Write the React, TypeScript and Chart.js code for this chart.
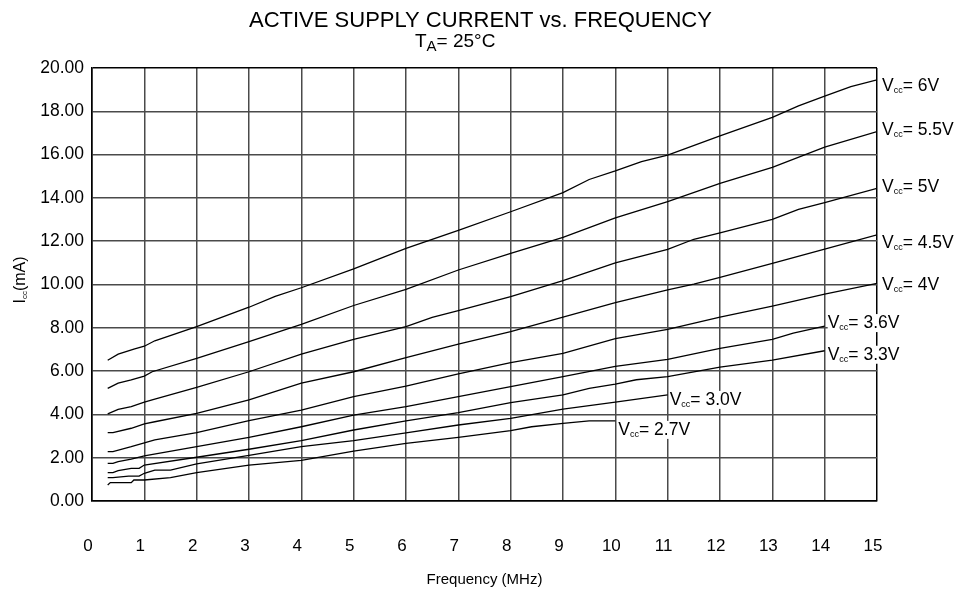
import React, { useEffect, useRef } from 'react';
import { Chart, registerables } from 'chart.js';

Chart.register(...registerables);

const FONT = '"Liberation Sans", Arial, Helvetica, sans-serif';

const TITLE = 'ACTIVE SUPPLY CURRENT vs. FREQUENCY';
const X_TITLE = 'Frequency (MHz)';

const xMin = 0;
const xMax = 15;
const yMin = 0;
const yMax = 20;

const freq6V = [0.3, 0.5, 0.8, 1, 1.2, 2, 3, 3.5, 4, 5, 6, 7, 8, 9, 9.5, 10, 10.5, 11, 12, 13, 13.5, 14, 14.5, 15];
const icc6V = [6.5, 6.78, 7.02, 7.15, 7.4, 8.05, 8.95, 9.45, 9.85, 10.72, 11.67, 12.5, 13.36, 14.24, 14.85, 15.25, 15.68, 15.98, 16.86, 17.72, 18.25, 18.7, 19.14, 19.45];

const freq55V = [0.3, 0.5, 0.75, 1, 1.15, 2, 3, 4, 5, 6, 7, 8, 9, 10, 11, 12, 13, 14, 15];
const icc55V = [5.2, 5.44, 5.59, 5.77, 5.97, 6.59, 7.36, 8.16, 9.03, 9.78, 10.67, 11.44, 12.18, 13.08, 13.83, 14.67, 15.41, 16.34, 17.06];

const freq5V = [0.3, 0.5, 0.75, 1, 1.2, 2, 3, 4, 5, 6, 6.5, 7, 8, 9, 10, 11, 11.5, 12, 13, 13.5, 14, 15];
const icc5V = [4.02, 4.23, 4.36, 4.57, 4.71, 5.25, 5.97, 6.78, 7.47, 8.05, 8.48, 8.79, 9.44, 10.18, 11.0, 11.62, 12.09, 12.39, 13.01, 13.47, 13.78, 14.44];

const freq45V = [0.3, 0.4, 0.75, 1, 1.2, 2, 3, 4, 5, 6, 7, 8, 9, 10, 11, 11.5, 12, 13, 14, 15];
const icc45V = [3.16, 3.16, 3.36, 3.56, 3.66, 4.05, 4.67, 5.44, 5.97, 6.62, 7.25, 7.82, 8.49, 9.16, 9.75, 10.02, 10.33, 10.98, 11.63, 12.29];

const freq4V = [0.3, 0.4, 0.75, 1, 1.2, 2, 3, 4, 5, 6, 7, 8, 9, 10, 11, 12, 13, 14, 15];
const icc4V = [2.28, 2.28, 2.51, 2.69, 2.82, 3.16, 3.71, 4.2, 4.82, 5.31, 5.87, 6.39, 6.82, 7.5, 7.93, 8.49, 9.0, 9.56, 10.05];

const freq36V = [0.3, 0.4, 0.5, 0.75, 1, 2, 3, 4, 5, 6, 7, 8, 9, 10, 11, 12, 13, 13.4, 14];
const icc36V = [1.74, 1.74, 1.82, 1.93, 2.08, 2.51, 2.94, 3.43, 3.97, 4.36, 4.82, 5.28, 5.74, 6.22, 6.54, 7.05, 7.47, 7.75, 8.08];

const freq33V = [0.3, 0.4, 0.5, 0.75, 0.9, 1, 2, 3, 4, 5, 6, 7, 8, 9, 9.5, 10, 10.4, 11, 12, 13, 14];
const icc33V = [1.31, 1.31, 1.4, 1.51, 1.51, 1.66, 2.02, 2.39, 2.79, 3.28, 3.7, 4.08, 4.54, 4.9, 5.2, 5.4, 5.6, 5.74, 6.18, 6.51, 6.94];

const freq30V = [0.3, 0.4, 0.7, 0.9, 1, 1.2, 1.5, 2, 3, 4, 5, 6, 7, 8, 9, 10, 11];
const icc30V = [1.08, 1.08, 1.15, 1.15, 1.28, 1.43, 1.43, 1.71, 2.11, 2.51, 2.79, 3.15, 3.51, 3.82, 4.24, 4.57, 4.9];

const freq27V = [0.3, 0.35, 0.75, 0.8, 1, 1.5, 2, 3, 4, 5, 6, 7, 8, 8.4, 9, 9.5, 10];
const icc27V = [0.74, 0.85, 0.85, 0.97, 0.97, 1.08, 1.31, 1.66, 1.88, 2.3, 2.66, 2.94, 3.25, 3.43, 3.59, 3.7, 3.7];

const seriesNames = ['6V', '5.5V', '5V', '4.5V', '4V', '3.6V', '3.3V', '3.0V', '2.7V'];
const seriesFreqs = [freq6V, freq55V, freq5V, freq45V, freq4V, freq36V, freq33V, freq30V, freq27V];
const seriesIccs = [icc6V, icc55V, icc5V, icc45V, icc4V, icc36V, icc33V, icc30V, icc27V];

// label placement relative to the last point of each curve (style only)
const labelDx = [5, 5, 5, 5, 5, 3, 3, 2, 3];
const labelDy = [11, 3, 4, 13, 7, 2, 9, 10, 14];

function drawSub(
  ctx: CanvasRenderingContext2D,
  x: number,
  y: number,
  main: string,
  sub: string,
  rest: string,
  size: number,
  subSize: number,
  drop: number
) {
  ctx.textAlign = 'left';
  ctx.textBaseline = 'alphabetic';
  ctx.font = `${size}px ${FONT}`;
  ctx.fillText(main, x, y);
  let cx = x + ctx.measureText(main).width;
  ctx.font = `${subSize}px ${FONT}`;
  ctx.fillText(sub, cx, y + drop);
  cx += ctx.measureText(sub).width;
  ctx.font = `${size}px ${FONT}`;
  ctx.fillText(rest, cx, y);
  return cx + ctx.measureText(rest).width;
}

const textPlugin = {
  id: 'textPlugin',
  afterDraw(chart: any) {
    const ctx: CanvasRenderingContext2D = chart.ctx;
    const xs = chart.scales.x;
    const ys = chart.scales.y;
    ctx.save();
    ctx.fillStyle = '#000';

    // title
    ctx.font = `22px ${FONT}`;
    ctx.textAlign = 'left';
    ctx.textBaseline = 'alphabetic';
    ctx.fillText(TITLE, 249, 27);

    // subtitle
    drawSub(ctx, 415, 47, 'T', 'A', '= 25°C', 19, 15, 4);

    // x title
    ctx.font = `15px ${FONT}`;
    ctx.textAlign = 'center';
    ctx.fillText(X_TITLE, (chart.chartArea.left + chart.chartArea.right) / 2, 584);

    // y title (rotated)
    ctx.save();
    ctx.translate(25, 280);
    ctx.rotate(-Math.PI / 2);
    ctx.font = `16px ${FONT}`;
    const w1 = ctx.measureText('I').width;
    ctx.font = `8px ${FONT}`;
    const w2 = ctx.measureText('cc').width;
    ctx.font = `16px ${FONT}`;
    const w3 = ctx.measureText('(mA)').width;
    drawSub(ctx, -(w1 + w2 + w3) / 2, 0, 'I', 'cc', '(mA)', 16, 8, 2);
    ctx.restore();

    // curve labels
    seriesNames.forEach((name, i) => {
      const f = seriesFreqs[i];
      const c = seriesIccs[i];
      const px = xs.getPixelForValue(f[f.length - 1]);
      const py = ys.getPixelForValue(c[c.length - 1]);
      const lx = px + labelDx[i];
      const ly = py + labelDy[i];
      ctx.font = `17.5px ${FONT}`;
      const tw = ctx.measureText('V').width;
      ctx.font = `9px ${FONT}`;
      const sw = ctx.measureText('cc').width;
      ctx.font = `17.5px ${FONT}`;
      const rw = ctx.measureText('= ' + name).width;
      ctx.fillStyle = '#fff';
      ctx.fillRect(lx, ly - 14, tw + sw + rw + 1, 18);
      ctx.fillStyle = '#000';
      drawSub(ctx, lx, ly, 'V', 'cc', '= ' + name, 17.5, 9, 2);
    });

    ctx.restore();
  },
};

export default function App() {
  const canvasRef = useRef<HTMLCanvasElement | null>(null);

  useEffect(() => {
    if (!canvasRef.current) return;
    const datasets = seriesNames.map((name, i) => ({
      label: name,
      data: seriesFreqs[i].map((f, j) => ({ x: f, y: seriesIccs[i][j] })),
      borderColor: '#000',
      backgroundColor: '#000',
      borderWidth: 1.3,
      pointRadius: 0,
      fill: false,
      tension: 0,
    }));

    const chart = new Chart(canvasRef.current, {
      type: 'line',
      data: { datasets },
      options: {
        animation: false,
        responsive: true,
        maintainAspectRatio: false,
        devicePixelRatio: 1,
        layout: { padding: { top: 68, right: 93, bottom: 0, left: 0 } },
        plugins: {
          legend: { display: false },
          tooltip: { enabled: false },
          title: { display: false },
        },
        scales: {
          x: {
            type: 'linear',
            min: xMin,
            max: xMax,
            afterFit: (scale: any) => {
              scale.height = 90;
            },
            ticks: {
              stepSize: 1,
              color: '#000',
              padding: 35,
              labelOffset: -4,
              font: { family: FONT, size: 17 },
              callback: (v: any) => String(v),
            },
            grid: {
              drawTicks: false,
              lineWidth: 1.5,
              color: (c: any) => (c.tick && (c.tick.value === xMax || c.tick.value === xMin) ? '#000' : '#4a4a4a'),
            },
            border: { display: true, color: '#000', width: 1.5 },
          },
          y: {
            type: 'linear',
            min: yMin,
            max: yMax,
            afterFit: (scale: any) => {
              scale.width = 92;
            },
            ticks: {
              stepSize: 2,
              color: '#000',
              padding: 8,
              font: { family: FONT, size: 17.5 },
              callback: (v: any) => Number(v).toFixed(2),
            },
            grid: {
              drawTicks: false,
              lineWidth: 1.5,
              color: (c: any) => (c.tick && (c.tick.value === yMax || c.tick.value === yMin) ? '#000' : '#4a4a4a'),
            },
            border: { display: true, color: '#000', width: 1.5 },
          },
        },
      },
      plugins: [textPlugin],
    });

    return () => chart.destroy();
  }, []);

  return (
    <div style={{ position: 'fixed', left: 0, top: 0, width: 970, height: 591, background: '#fff' }}>
      <canvas ref={canvasRef} />
    </div>
  );
}
